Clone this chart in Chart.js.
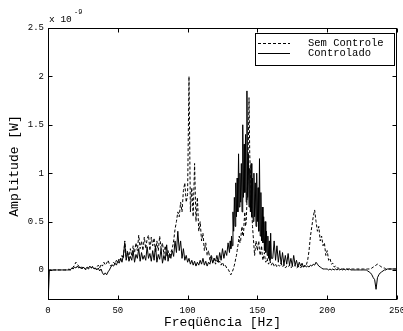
<!DOCTYPE html>
<html>
<head>
<meta charset="utf-8">
<script src="https://cdn.jsdelivr.net/npm/chart.js@4.4.1/dist/chart.umd.min.js"></script>
<style>
html,body{margin:0;padding:0;background:#fff;}
#wrap{width:403px;height:331px;}
</style>
</head>
<body>
<div id="wrap"><canvas id="c" width="403" height="331"></canvas></div>
<script>
// Frequency grid (Hz): 1 Hz steps, 0.5 Hz steps in the 130-160 Hz band
const freq = [];
for (let f = 0; f <= 129; f += 1) freq.push(f);
for (let f = 130; f <= 160; f += 0.5) freq.push(f);
for (let f = 161; f <= 250; f += 1) freq.push(f);

// Values in units of 1e-9 W
const controlado = [
  // 0-129 Hz
  -0.35,0,0,0,0,0,0,0,0,0,
  0,0,0,0,0,0.01,0,0.02,0.01,0.03,
  0.02,0.04,0.02,0.03,0.01,0.03,0.02,0.01,0.03,0.02,
  0.04,0.02,0.03,0.01,0.02,0,0.02,-0.01,0.01,-0.03,
  -0.05,-0.03,-0.05,-0.02,0,0.03,0.05,0.04,0.07,0.05,
  0.09,0.07,0.12,0.08,0.15,0.28,0.1,0.18,0.09,0.14,
  0.1,0.2,0.08,0.16,0.12,0.22,0.09,0.18,0.11,0.15,
  0.1,0.24,0.12,0.17,0.09,0.2,0.1,0.25,0.08,0.16,
  0.11,0.22,0.07,0.15,0.1,0.26,0.09,0.17,0.12,0.2,
  0.14,0.3,0.18,0.4,0.2,0.3,0.12,0.22,0.1,0.15,
  0.08,0.12,0.06,0.1,0.05,0.09,0.04,0.08,0.05,0.1,
  0.06,0.12,0.05,0.09,0.04,0.08,0.06,0.13,0.07,0.12,
  0.09,0.15,0.08,0.18,0.1,0.22,0.12,0.2,0.15,0.28,
  // 130-160 Hz (0.5 Hz)
  0.18,0.3,0.22,0.35,0.25,0.6,0.4,0.75,0.45,0.9,
  0.55,0.95,0.6,1.2,0.65,1.0,0.7,1.1,0.6,1.5,
  0.75,1.3,0.8,1.4,0.7,1.85,0.75,1.2,0.65,1.05,
  0.6,1.1,0.55,0.95,0.5,1.0,0.55,0.9,0.45,1.0,
  0.5,0.85,0.4,1.15,0.35,0.8,0.3,0.65,0.28,0.55,
  0.2,0.5,0.18,0.4,0.15,0.35,0.12,0.3,0.1,0.38,
  0.12,
  // 161-250 Hz
  0.12,0.3,0.1,0.25,0.08,0.2,0.06,0.18,0.05,
  0.15,0.06,0.17,0.05,0.12,0.04,0.15,0.05,0.1,0.03,
  0.08,0.04,0.07,0.03,0.05,0.03,0.04,0.03,0.05,0.04,
  0.06,0.05,0.08,0.06,0.04,0.03,0.02,0.01,0.01,0.01,
  0.01,0,0.01,0,0.01,0,0.01,0,0.01,0,
  0.01,0,0.01,0,0.01,0,0.01,0,0,0,
  0,0,0,0,0,0,0,0,0,-0.01,
  -0.02,-0.03,-0.05,-0.08,-0.1,-0.2,-0.08,-0.05,-0.03,-0.02,
  -0.01,0,0,0.01,0.01,0.01,0.01,0.01,0.01,0.01,0.01
];
const semControle = [
  // 0-129 Hz
  0,0,0,0,0,0,0,0,0,0,
  0,0,0,0,0,0,0,0.01,0.03,0.05,
  0.08,0.06,0.04,0.02,0.03,0.01,0.02,0,0.02,0.01,
  0.03,0.02,0.04,0.02,0.01,0.03,0.05,0.02,0.06,0.04,
  0.08,0.05,0.07,0.1,0.06,0.04,0.06,0.08,0.06,0.1,
  0.08,0.12,0.1,0.15,0.12,0.3,0.14,0.2,0.12,0.22,
  0.15,0.25,0.18,0.28,0.2,0.36,0.22,0.3,0.2,0.34,
  0.22,0.32,0.36,0.2,0.34,0.25,0.33,0.18,0.3,0.2,
  0.35,0.22,0.28,0.16,0.25,0.14,0.2,0.12,0.18,0.22,
  0.3,0.42,0.5,0.6,0.55,0.7,0.6,0.82,0.9,0.7,
  0.78,2.0,0.6,0.85,0.55,1.1,0.5,0.75,0.4,0.5,
  0.3,0.38,0.2,0.28,0.15,0.2,0.1,0.16,0.08,0.12,
  0.06,0.1,0.07,0.09,0.05,0.08,0.04,0.05,0.02,0.01,
  // 130-160 Hz (0.5 Hz)
  -0.02,-0.04,-0.05,-0.03,-0.02,0,0.02,0.05,0.08,0.12,
  0.15,0.2,0.25,0.3,0.35,0.28,0.3,0.4,0.45,0.35,
  0.35,0.5,0.6,0.45,0.5,0.7,0.9,1.3,1.78,1.2,
  1.0,0.8,0.6,0.45,0.35,0.25,0.15,0.22,0.3,0.25,
  0.2,0.26,0.3,0.2,0.15,0.2,0.25,0.15,0.1,0.14,
  0.18,0.12,0.08,0.1,0.12,0.08,0.06,0.08,0.1,0.07,
  0.05,
  // 161-250 Hz
  0.08,0.04,0.06,0.03,0.05,0.04,0.07,0.03,0.05,
  0.02,0.04,0.03,0.05,0.02,0.04,0.03,0.05,0.02,0.03,
  0.04,0.02,0.05,0.03,0.04,0.05,0.1,0.2,0.35,0.45,
  0.55,0.62,0.5,0.4,0.45,0.3,0.35,0.25,0.28,0.15,
  0.2,0.1,0.12,0.06,0.07,0.03,0.04,0.02,0.02,0.01,
  0.01,0.01,0.01,0.01,0.01,0.01,0.01,0.01,0.01,0.01,
  0.01,0.01,0.01,0.01,0.01,0.01,0.01,0.01,0.01,0.01,
  0.01,0.01,0.02,0.03,0.04,0.05,0.06,0.05,0.04,0.03,
  0.02,0.02,0.01,0.01,0.01,0.01,0.01,0.01,0.01,0.01,0.01
];
const xTicks = [0, 50, 100, 150, 200, 250];
const yTicks = [0, 0.5, 1, 1.5, 2, 2.5];
const seriesNames = ['Sem Controle', 'Controlado'];
const xTitle = 'Freqüência [Hz]';
const yTitle = 'Amplitude [W]';

const MONO = "'Liberation Mono','DejaVu Sans Mono',monospace";

const decor = {
  id: 'decor',
  afterDraw(chart) {
    const ctx = chart.ctx;
    const a = chart.chartArea;
    const xs = chart.scales.x, ys = chart.scales.y;
    ctx.save();
    ctx.strokeStyle = '#000';
    ctx.lineWidth = 1;
    const L = Math.round(a.left) + 0.5, R = Math.round(a.right) - 0.5;
    const T = Math.round(a.top) + 0.5, B = Math.round(a.bottom) + 0.5;
    ctx.strokeRect(L, T, R - L, B - T);
    ctx.beginPath();
    xTicks.forEach(v => {
      const p = Math.round(xs.getPixelForValue(v)) + 0.5;
      ctx.moveTo(p, B); ctx.lineTo(p, B - 4);
      ctx.moveTo(p, T); ctx.lineTo(p, T + 4);
    });
    yTicks.forEach(v => {
      const p = Math.round(ys.getPixelForValue(v)) + 0.5;
      ctx.moveTo(L, p); ctx.lineTo(L + 4, p);
      ctx.moveTo(R, p); ctx.lineTo(R - 4, p);
    });
    ctx.stroke();
    // titles
    ctx.fillStyle = '#000';
    ctx.font = '13px ' + MONO;
    ctx.textAlign = 'center';
    ctx.textBaseline = 'middle';
    ctx.fillText(xTitle, (a.left + a.right) / 2, 323);
    ctx.save();
    ctx.translate(15, 166);
    ctx.rotate(-Math.PI / 2);
    ctx.fillText(yTitle, 0, 0);
    ctx.restore();
    // exponent
    ctx.textAlign = 'left';
    ctx.textBaseline = 'alphabetic';
    ctx.font = '9.5px ' + MONO;
    ctx.fillText('x 10', 49, 22);
    ctx.font = '7px ' + MONO;
    ctx.fillText('-9', 74, 14);
    // legend
    const bx = 255.5, by = 33.5, bw = 139, bh = 32;
    ctx.fillStyle = '#fff';
    ctx.fillRect(bx, by, bw, bh);
    ctx.strokeRect(bx, by, bw, bh);
    ctx.beginPath();
    ctx.setLineDash([3, 2]);
    ctx.moveTo(258, 43.5); ctx.lineTo(290, 43.5);
    ctx.stroke();
    ctx.setLineDash([]);
    ctx.beginPath();
    ctx.moveTo(258, 53.5); ctx.lineTo(290, 53.5);
    ctx.stroke();
    ctx.fillStyle = '#000';
    ctx.font = '10.5px ' + MONO;
    ctx.textBaseline = 'middle';
    ctx.fillText(seriesNames[0], 308, 43.5);
    ctx.fillText(seriesNames[1], 308, 53.5);
    ctx.restore();
  }
};

new Chart(document.getElementById('c'), {
  type: 'line',
  data: {
    datasets: [
      {
        label: seriesNames[1],
        data: freq.map((f, i) => ({x: f, y: controlado[i]})),
        borderColor: '#000', borderWidth: 1, pointRadius: 0, tension: 0, fill: false
      },
      {
        label: seriesNames[0],
        data: freq.map((f, i) => ({x: f, y: semControle[i]})),
        borderColor: '#000', borderWidth: 1, borderDash: [3, 2], pointRadius: 0, tension: 0, fill: false
      }
    ]
  },
  options: {
    responsive: false,
    animation: false,
    events: [],
    layout: {padding: {top: 28, right: 6, left: 0, bottom: 0}},
    plugins: {legend: {display: false}, tooltip: {enabled: false}},
    scales: {
      x: {
        type: 'linear', min: 0, max: 250,
        grid: {display: false, drawTicks: false},
        border: {display: false},
        ticks: {autoSkip: false, maxRotation: 0, padding: 6, color: '#000', font: {family: MONO, size: 9}},
        afterBuildTicks: s => { s.ticks = xTicks.map(v => ({value: v})); },
        afterFit: s => { s.height = 32; s.paddingLeft = 0; s.paddingRight = 0; }
      },
      y: {
        type: 'linear', min: -0.3, max: 2.5,
        grid: {display: false, drawTicks: false},
        border: {display: false},
        ticks: {padding: 4, color: '#000', font: {family: MONO, size: 9},
          callback: v => String(v)},
        afterBuildTicks: s => { s.ticks = yTicks.map(v => ({value: v})); },
        afterFit: s => { s.width = 48; s.paddingTop = 0; s.paddingBottom = 0; }
      }
    }
  },
  plugins: [decor]
});
</script>
</body>
</html>
